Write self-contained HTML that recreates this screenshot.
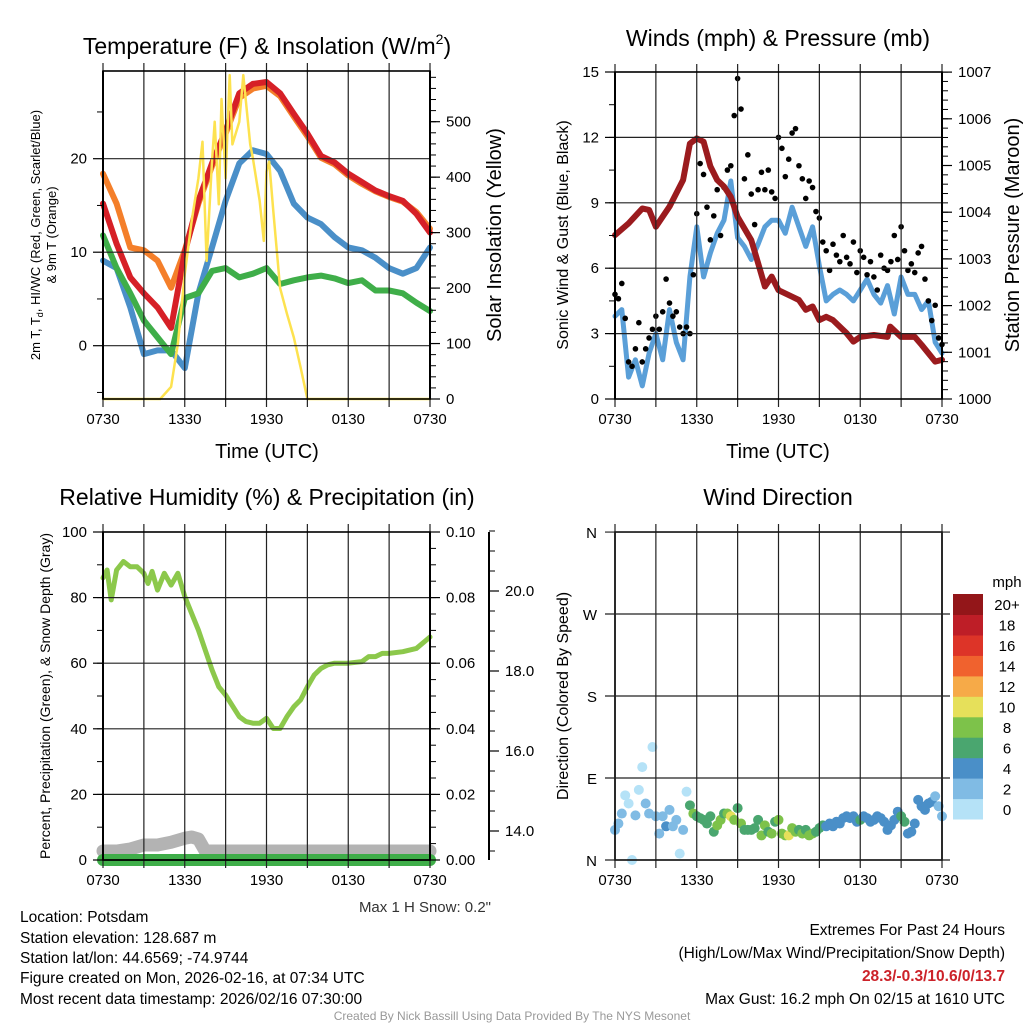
<!DOCTYPE html>
<html><head><meta charset="utf-8"><title>Mesonet Meteogram - Potsdam</title>
<style>
html,body{margin:0;padding:0;background:#fff;}
svg{display:block;font-family:"Liberation Sans",sans-serif;}
</style></head>
<body>
<svg id="chart" xmlns="http://www.w3.org/2000/svg" width="1024" height="1024" viewBox="0 0 1024 1024">
<rect width="1024" height="1024" fill="#fff"/>
<g id="layer-marks"></g>
<g id="layer-axes"></g>
<g id="layer-text">
<text x="267" y="54" font-size="23" text-anchor="middle">Temperature (F) &amp; Insolation (W/m<tspan font-size="14" dy="-10">2</tspan><tspan dy="10">)</tspan></text>
<text x="778" y="46" font-size="23" text-anchor="middle">Winds (mph) &amp; Pressure (mb)</text>
<text x="267" y="505" font-size="23" text-anchor="middle">Relative Humidity (%) &amp; Precipitation (in)</text>
<text x="778" y="505" font-size="23" text-anchor="middle">Wind Direction</text>
<text x="267" y="458" font-size="20" text-anchor="middle">Time (UTC)</text>
<text x="778" y="458" font-size="20" text-anchor="middle">Time (UTC)</text>
<text transform="translate(40,235) rotate(-90)" font-size="13" text-anchor="middle">2m T, T<tspan font-size="9" dy="3">d</tspan><tspan dy="-3">, HI/WC (Red, Green, Scarlet/Blue)</tspan></text>
<text transform="translate(56,235) rotate(-90)" font-size="13" text-anchor="middle">&amp; 9m T (Orange)</text>
<text transform="translate(501,235) rotate(-90)" font-size="20" text-anchor="middle">Solar Insolation (Yellow)</text>
<text transform="translate(568,235) rotate(-90)" font-size="16" text-anchor="middle">Sonic Wind &amp; Gust (Blue, Black)</text>
<text transform="translate(1019,235) rotate(-90)" font-size="20" text-anchor="middle">Station Pressure (Maroon)</text>
<text transform="translate(50,696) rotate(-90)" font-size="14" text-anchor="middle">Percent, Precipitation (Green), &amp; Snow Depth (Gray)</text>
<text transform="translate(568,696) rotate(-90)" font-size="16" text-anchor="middle">Direction (Colored By Speed)</text>
<text x="491" y="912" font-size="15" text-anchor="end" fill="#333">Max 1 H Snow: 0.2"</text>
<g font-size="15.5" fill="#000">
<text x="20" y="922">Location: Potsdam</text>
<text x="20" y="943">Station elevation: 128.687 m</text>
<text x="20" y="963">Station lat/lon: 44.6569; -74.9744</text>
<text x="20" y="983">Figure created on Mon, 2026-02-16, at 07:34 UTC</text>
<text x="20" y="1004">Most recent data timestamp: 2026/02/16 07:30:00</text>
</g>
<g font-size="15.5" text-anchor="end">
<text x="1005" y="935">Extremes For Past 24 Hours</text>
<text x="1005" y="958">(High/Low/Max Wind/Precipitation/Snow Depth)</text>
<text x="1005" y="981" fill="#cc2229" font-weight="bold">28.3/-0.3/10.6/0/13.7</text>
<text x="1005" y="1004">Max Gust: 16.2 mph On 02/15 at 1610 UTC</text>
</g>
<text x="512" y="1020" font-size="12" fill="#999" text-anchor="middle">Created By Nick Bassill Using Data Provided By The NYS Mesonet</text>
<text x="1007" y="587" font-size="15" text-anchor="middle">mph</text>
</g>
</svg>
<script>
// ---------- DATA ----------
const timeTickLabels = ["0730","1330","1930","0130","0730"];
const tempHours = [0,1,2,3,4,5,6,7,8,9,10,11,12,13,14,15,16,17,18,19,20,21,22,23,24];
const temp2m = [15.2,10.9,7.3,5.6,4.1,1.9,10.0,15.5,19.5,23,27,28,28.2,27,24.8,22.7,20.3,19.6,18.4,17.5,16.6,16,15.5,14.1,12.1];
const temp9m = [18.4,15.2,10.5,10.2,9.1,6.2,10.2,15.2,19.2,22.7,26.5,27.5,27.8,26.7,24.5,22.4,20.1,19.4,18.2,17.3,16.5,15.9,15.4,14.3,12.5];
const dewpoint = [11.8,8.3,5.6,2.7,0.9,-0.9,5.1,5.6,8,8.3,7.3,7.7,8.3,6.6,7,7.3,7.5,7.2,6.7,7,5.9,5.9,5.6,4.6,3.7];
const heatIndexWC = [9.1,8.3,4.1,-0.9,-0.5,-0.5,-2.4,5.6,10.5,15.5,19.5,20.9,20.5,18.7,15.2,13.7,13,11.6,10.5,10.2,9.4,8.3,7.7,8.3,10.5];
const solarHours = [0,4.2,5,5.5,6,6.5,7,7.3,7.6,8,8.2,8.5,8.7,9,9.3,9.5,10,10.3,10.8,11,11.5,11.8,12,12.2,12.5,13,13.5,14,14.5,15,24];
const solarVals = [0,0,22,100,226,320,398,464,249,428,500,351,541,398,584,459,500,584,459,434,357,285,410,428,339,200,154,111,57,0,0];
const windHours = [0,0.5,1,1.5,2,2.5,3,3.5,4,4.5,5,5.5,6,6.5,7,7.5,8,8.5,9,9.5,10,10.5,11,11.5,12,12.5,13,13.5,14,14.5,15,15.5,16,16.5,17,17.5,18,18.5,19,19.5,20,20.5,21,21.5,22,22.5,23,23.5,24];
const windSpeed = [3.8,4.1,1.0,1.8,0.6,2.1,3.0,1.8,4.1,2.6,1.8,5.6,7.9,5.6,6.7,7.6,8.2,10.0,7.4,7.0,6.4,7.1,7.9,8.2,8.2,7.6,8.8,7.9,7.0,7.9,6.1,4.5,4.8,5.0,4.8,4.5,5.0,5.5,4.8,4.4,5.2,3.9,5.6,4.8,4.8,4.1,4.5,2.6,2.1];
const gustStepHr = 0.25;
const gustSpeed = [4.8,4.6,5.3,3.7,1.7,1.5,2.3,3.5,1.7,2.3,2.8,3.2,3.8,3.2,4.0,5.5,4.4,3.8,4.0,3.3,3.0,3.3,3.0,5.7,8.5,10.8,10.3,8.8,7.3,8.4,9.6,7.5,9.7,10.5,10.7,13.0,14.7,13.3,10.1,11.2,9.4,8.0,9.6,10.4,9.6,10.5,9.5,9.2,12.0,11.5,10.2,11.0,12.2,12.4,10.7,10.1,9.2,10.0,9.7,8.6,8.3,7.2,6.8,5.9,7.1,6.6,6.3,7.5,6.5,6.2,7.2,5.8,6.8,6.5,5.7,6.3,5.6,5.0,6.6,6.0,5.9,6.3,7.5,6.4,7.9,6.8,5.9,6.2,5.8,6.7,7.0,5.5,4.5,3.6,4.3,2.8,2.5];
const pressHours = [0,1,2,2.5,3,4,5,5.5,6,6.5,7,7.5,8,8.5,9,10,10.5,11,11.5,12,13,13.5,14,14.5,15,15.5,16,17,17.5,18,19,20,20.2,21,22,22.5,23,23.5,24];
const pressVals = [1003.51,1003.76,1004.08,1004.05,1003.69,1004.12,1004.69,1005.47,1005.58,1005.51,1004.98,1004.69,1004.55,1004.33,1003.90,1003.40,1002.91,1002.41,1002.62,1002.33,1002.19,1002.12,1001.91,1001.98,1001.69,1001.76,1001.69,1001.41,1001.23,1001.33,1001.37,1001.33,1001.55,1001.33,1001.33,1001.16,1000.98,1000.80,1000.84];
const rhHours = [0,0.3,0.6,1,1.5,2,2.5,3,3.3,3.6,4,4.5,5,5.5,6,7,8,8.5,9,10,10.5,11,11.5,12,12.5,13,13.5,14,14.5,15,15.5,16,16.5,17,18,19,19.5,20,20.5,21,22,23,24];
const rhVals = [86,88.4,79.3,88.4,91,89.4,89.4,87.4,84.3,88,82.3,87.4,83.8,87.4,80.3,70.1,58,52.8,50.3,43.7,42.2,41.7,41.7,43.2,40.1,40.1,43.7,46.7,48.8,52.8,56.4,58.4,59.5,60,60,60.5,62,62,63,63,63.5,64.5,68];
const snowHours = [0,1,2,3,4,5,6,6.5,7,7.5,8,24];
const snowDepth = [13.5,13.5,13.55,13.65,13.65,13.72,13.82,13.85,13.8,13.5,13.5,13.5];
const precipHours = [0,24];
const precipVals = [0,0];
const dirStepHr = 0.25;
const dirDeg = [33,40,51,71,62,0,49,77,102,62,51,124,48,29,48,37,55,37,44,7,33,75,60,51,48,46,44,40,48,31,38,44,51,51,48,44,57,40,33,33,33,35,44,27,38,31,29,42,44,29,27,27,35,31,33,29,33,27,29,31,35,38,37,40,37,42,40,46,48,46,48,42,44,48,46,42,44,48,46,42,33,38,44,53,48,42,29,31,40,66,59,55,62,64,70,59,48];
const dirSpeed = [3,3,2,1,1,1,3,1,1,3,3,1,2,2,3,4,3,3,2,1,2,1,6,8,7,6,7,6,7,6,8,8,7,9,10,8,7,8,7,6,7,7,6,8,8,6,8,7,8,8,9,10,8,8,7,8,7,8,8,7,6,6,5,4,5,4,5,4,5,4,5,4,6,5,4,5,4,5,4,5,5,4,5,5,7,7,5,5,4,5,5,4,5,4,3,3,3];
const speedBins = ["0","2","4","6","8","10","12","14","16","18","20+"];
const speedColors = ["#b5e2f7","#80bbe4","#4a8fc8","#4aa66f","#7dc24a","#e6e05a","#f6aa48","#f0622e","#dd3428","#be1e27","#931619"];

// ---------- HELPERS ----------
const NS = "http://www.w3.org/2000/svg";
const marks = document.getElementById("layer-marks");
const axes = document.getElementById("layer-axes");
function mk(tag, attrs, parent){
  const e = document.createElementNS(NS, tag);
  for (const k in attrs) e.setAttribute(k, attrs[k]);
  parent.appendChild(e);
  return e;
}
const HPX = 327/24;
function xL(h){ return 103 + h*HPX; }
function xR(h){ return 615 + h*HPX; }
function yTemp(v){ return 345.7 - v*9.35; }
function ySolar(v){ return 399 - v*0.5546; }
function yWind(v){ return 399 - v*21.8; }
function yPress(p){ return 399 - (p-1000)*46.7; }
function yRH(v){ return 860 - v*3.28; }
function yPrecip(v){ return 860 - v*3280; }
function ySnow(s){ return 831 - (s-14)*40; }
function yDir(d){ return 860 - d*0.911; }

function series(hours, vals, fx, fy, color, width, name){
  const pts = hours.map((h,i)=> fx(h).toFixed(1)+","+fy(vals[i]).toFixed(1)).join(" ");
  const p = mk("polyline", {points:pts, fill:"none", stroke:color, "stroke-width":width, "stroke-linejoin":"round", "stroke-linecap":"round"}, marks);
  
  
  return p;
}
function gline(x1,y1,x2,y2,color,w,parent){
  return mk("line",{x1:x1,y1:y1,x2:x2,y2:y2,stroke:color,"stroke-width":w},parent||axes);
}
function label(x,y,txt,anchor,size,name){
  const t = mk("text",{x:x,y:y,"font-size":size||15,"text-anchor":anchor||"middle"},axes);
  t.textContent = txt;
  
  
  return t;
}

function panel(x0,x1,y0,y1,fx,name){
  for (let k=0;k<=8;k++){
    const x = fx(k*3);
    gline(x, y0-8, x, y1+8, "#222", 1.2);
  }
  timeTickLabels.forEach((lb,i)=>{ label(fx(i*6), y1+25, lb, "middle", 15, name+"-x-tick-"+i); });
  const r = mk("rect",{x:x0,y:y0,width:x1-x0,height:y1-y0,fill:"none",stroke:"#000","stroke-width":1.6},axes);
  
  
}
function vaxis(x, y0, y1, fy, majors, minors, labels, side, name){
  gline(x, y0, x, y1, "#000", 2);
  const dir = side==="left" ? -1 : 1;
  minors.forEach(v=>gline(x, fy(v), x+dir*6, fy(v), "#000", 1));
  majors.forEach((v,i)=>{
    gline(x, fy(v), x+dir*10, fy(v), "#000", 1.2);
    if (labels) label(x+dir*16, fy(v)+5, labels[i], side==="left"?"end":"start", 15, name+"-tick-"+i);
  });
}
function range(a,b,s){ const r=[]; for(let v=a; v<=b+1e-9; v+=s) r.push(+v.toFixed(4)); return r; }

// ---------- TOP-LEFT: temperature ----------
panel(103,430,71,399,xL,"temp");
[0,10,20].forEach(v=>gline(103,yTemp(v),430,yTemp(v),"#222",1.2));
vaxis(103,71,399,yTemp,[0,10,20],[-5,5,15,25],["0","10","20"],"left","temp-y");
vaxis(430,71,399,ySolar,[0,100,200,300,400,500],range(0,580,20),["0","100","200","300","400","500"],"right","solar-y");
series(tempHours, heatIndexWC, xL, yTemp, "#4a8fc8", 6, "hi-wc-line");
series(tempHours, dewpoint, xL, yTemp, "#3fae49", 6, "dewpoint-line");
series(tempHours, temp9m, xL, yTemp, "#f47f2a", 6, "temp-9m-line");
series(tempHours, temp2m, xL, yTemp, "#d62027", 6, "temp-2m-line");
series(solarHours, solarVals, xL, ySolar, "#fde24f", 2.5, "solar-insolation-line");

// ---------- TOP-RIGHT: winds ----------
panel(615,942,72,399,xR,"wind");
[3,6,9,12].forEach(v=>gline(615,yWind(v),942,yWind(v),"#222",1.2));
vaxis(615,72,399,yWind,[0,3,6,9,12,15],range(0,15,1.5),["0","3","6","9","12","15"],"left","wind-y");
vaxis(942,72,399,yPress,[1000,1001,1002,1003,1004,1005,1006,1007],range(1000,1007,0.2),["1000","1001","1002","1003","1004","1005","1006","1007"],"right","pressure-y");
series(windHours, windSpeed, xR, yWind, "#5a9fd8", 5, "sonic-wind-line");
gustSpeed.forEach((g,i)=>{
  const c = mk("circle",{cx:xR(i*gustStepHr), cy:yWind(g), r:2.8, fill:"#000"},marks);
  
  
});
series(pressHours, pressVals, xR, yPress, "#9b1b1e", 6, "pressure-line");

// ---------- BOTTOM-LEFT: RH ----------
panel(103,430,532,860,xL,"rh");
[20,40,60,80].forEach(v=>gline(103,yRH(v),430,yRH(v),"#222",1.2));
vaxis(103,532,860,yRH,[0,20,40,60,80,100],range(0,100,10),["0","20","40","60","80","100"],"left","rh-y");
vaxis(430,532,860,yPrecip,[0,0.02,0.04,0.06,0.08,0.10],range(0,0.1,0.005),["0.00","0.02","0.04","0.06","0.08","0.10"],"right","precip-y");
vaxis(489,532,860,ySnow,[14,16,18,20],range(13.5,21.5,0.5),["14.0","16.0","18.0","20.0"],"right","snow-y");
series(snowHours, snowDepth, xL, ySnow, "#b3b3b3", 13, "snow-depth-line");
series(precipHours, precipVals, xL, yPrecip, "#3fae49", 12, "precip-line");
gline(103,860,430,860,"#000",1.6,marks);
series(rhHours, rhVals, xL, yRH, "#8cc84b", 5, "rh-line");

// ---------- BOTTOM-RIGHT: direction ----------
panel(615,942,532,860,xR,"dir");
[0,90,180,270,360].forEach((d,i)=>{
  gline(605,yDir(d),950,yDir(d),"#222",1.2);
  label(597,yDir(d)+6,["N","E","S","W","N"][i],"end",15,"dir-y-tick-"+i);
});
function speedColor(s){ let k=Math.floor(s/2); if(k>10)k=10; if(k<0)k=0; return speedColors[k]; }
dirDeg.forEach((d,i)=>{
  const c = mk("circle",{cx:xR(i*dirStepHr), cy:yDir(d), r:5, fill:speedColor(dirSpeed[i])},marks);
  
  
});
const nb = speedBins.length, cbTop = 594, cbH = 225/nb;
speedBins.forEach((lb,i)=>{
  const y = cbTop + (nb-1-i)*cbH;
  const r = mk("rect",{x:953,y:y.toFixed(1),width:30,height:(cbH+0.5).toFixed(1),fill:speedColors[i]},axes);
  
  
  label(1007, y+cbH/2+6, lb, "middle", 15, "colorbar-label-"+i);
});
</script>
</body></html>
